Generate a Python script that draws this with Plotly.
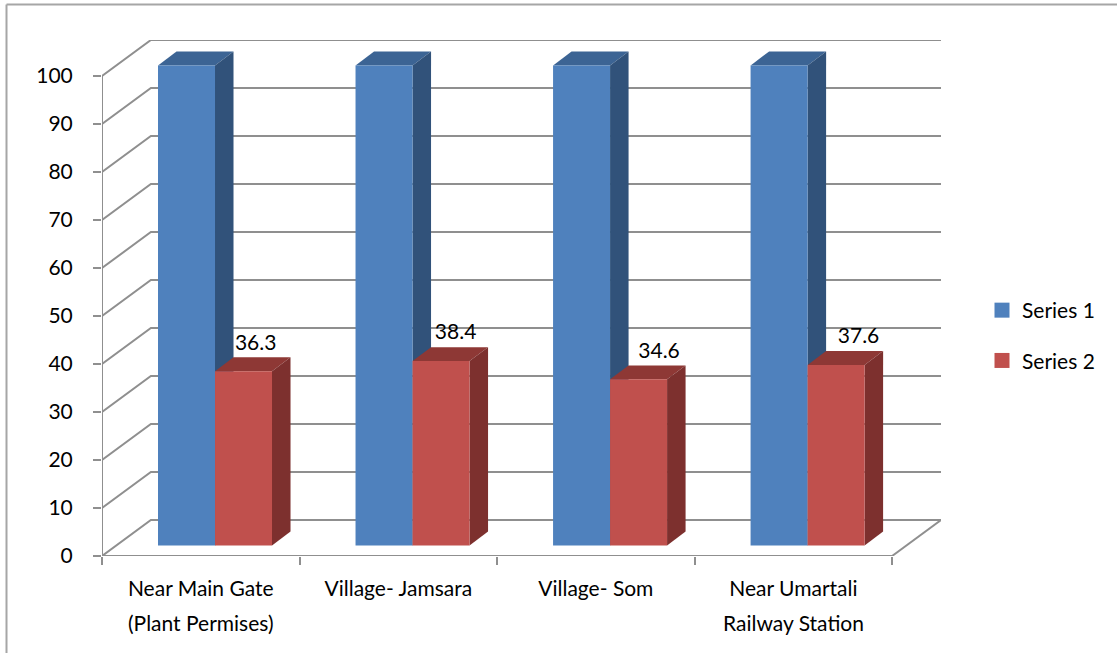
import plotly.graph_objects as go

# Chart data
categories = ["Near Main Gate", "Village- Jamsara", "Village- Som", "Near Umartali"]
categories_second_line = ["(Plant Permises)", "", "", "Railway Station"]
series_names = ["Series 1", "Series 2"]
series_1 = [100, 100, 100, 100]
series_2 = [36.3, 38.4, 34.6, 37.6]
y_ticks = [0, 10, 20, 30, 40, 50, 60, 70, 80, 90, 100]

# Oblique projection, in axis units
WALL_DX, WALL_DY = 0.2475, 7.5      # depth of the floor and walls
BAR_START = 0.2835                  # front-left corner of a bar pair inside its category
BAR_W = 0.2886
BAR_BASE = 2.2                      # bars stand slightly forward of the back wall
BAR_DX, BAR_DY = 0.0937, 2.9        # depth of a bar
LABEL_DX = [0.206, 0.218, 0.248, 0.258]  # data label centres, from the red bar's left edge
LABEL_DY = 5.6

GRID = "#8f8f8f"
FONT = "Lato, Carlito, sans-serif"
FS = 21
STYLES = [
    {"front": "#4f81bd", "side": "#31527a", "top": "#3c6494"},
    {"front": "#c0504d", "side": "#7d302e", "top": "#8e3835"},
]

W, H = 1117, 653
L, R, T, B = 102, W - 941, 40, H - 556

fig = go.Figure()


def line(xs, ys):
    fig.add_trace(go.Scatter(x=xs, y=ys, mode="lines", showlegend=False, hoverinfo="skip",
                             cliponaxis=False, line=dict(color=GRID, width=2)))


def face(xs, ys, color):
    fig.add_trace(go.Scatter(x=xs, y=ys, mode="lines", fill="toself", fillcolor=color,
                             showlegend=False, hoverinfo="skip", cliponaxis=False,
                             line=dict(width=0, color=color)))


# Back wall, side wall and floor lines
n = len(categories)
for v in y_ticks:
    line([0, WALL_DX, n + WALL_DX], [v, v + WALL_DY, v + WALL_DY])
line([n, n + WALL_DX], [0, WALL_DY])

# Axis lines in front of the walls
line([0, 0], [0, y_ticks[-1]])
line([0, n], [0, 0])

# Each column: top, side and front faces, back series first
for i in range(n):
    for s, values in enumerate([series_1, series_2]):
        v = values[i]
        x0 = i + BAR_START + s * BAR_W
        x1 = x0 + BAR_W
        top = BAR_BASE + v
        st = STYLES[s]
        face([x0, x1, x1 + BAR_DX, x0 + BAR_DX, x0],
             [top, top, top + BAR_DY, top + BAR_DY, top], st["top"])
        face([x1, x1 + BAR_DX, x1 + BAR_DX, x1, x1],
             [BAR_BASE, BAR_BASE + BAR_DY, top + BAR_DY, top, BAR_BASE], st["side"])
        face([x0, x1, x1, x0, x0], [BAR_BASE, BAR_BASE, top, top, BAR_BASE], st["front"])

# Value labels for the second series
fig.add_trace(go.Scatter(
    x=[i + BAR_START + BAR_W + LABEL_DX[i] for i in range(n)],
    y=[BAR_BASE + v + LABEL_DY for v in series_2],
    text=[str(v) for v in series_2],
    mode="text", textposition="middle center", cliponaxis=False, showlegend=False,
    hoverinfo="skip", textfont=dict(family=FONT, size=FS, color="black"),
))

# Legend entries
for s, name in enumerate(series_names):
    fig.add_trace(go.Scatter(x=[None], y=[None], mode="markers", name=name, legendgroup=name,
                             marker=dict(symbol="square", size=15, color=STYLES[s]["front"])))

# Frame on the left and top of the figure
plot_w, plot_h = W - L - R, H - T - B
def px(x):
    return (x - L) / plot_w
def py(y):
    return (H - B - y) / plot_h

fig.add_shape(type="line", xref="paper", yref="paper", x0=px(6.5), x1=px(6.5), y0=py(H), y1=py(4.5),
              line=dict(color="#a6a6a6", width=2))
fig.add_shape(type="line", xref="paper", yref="paper", x0=px(6.5), x1=px(W), y0=py(4.5), y1=py(4.5),
              line=dict(color="#a6a6a6", width=2))

# Second lines of the category labels sit further apart than a normal line break
for i, t in enumerate(categories_second_line):
    if t:
        fig.add_annotation(x=i + 0.5, y=0, xref="x", yref="y", text=t, showarrow=False,
                           yshift=-66, xanchor="center", yanchor="middle",
                           font=dict(family=FONT, size=FS, color="black"))

fig.update_layout(
    width=W, height=H, margin=dict(l=L, r=R, t=T, b=B, pad=0),
    paper_bgcolor="white", plot_bgcolor="white",
    font=dict(family=FONT, size=FS, color="black"),
    showlegend=True,
    legend=dict(x=px(982), y=py(290), xanchor="left", yanchor="top", xref="paper", yref="paper",
                tracegroupgap=20, traceorder="grouped", bgcolor="rgba(0,0,0,0)",
                font=dict(family=FONT, size=FS, color="black"), itemwidth=30),
    xaxis=dict(
        range=[0, n + WALL_DX], showgrid=False, zeroline=False, showline=False,
        tickmode="array", tickvals=[i + 0.5 for i in range(n)], ticktext=categories,
        ticks="", ticklabelstandoff=18, tickfont=dict(family=FONT, size=FS, color="black"),
        minor=dict(tickmode="array", tickvals=list(range(n + 1)), ticks="outside",
                   ticklen=8, tickwidth=2, tickcolor=GRID, showgrid=False),
    ),
    yaxis=dict(
        range=[0, y_ticks[-1] + WALL_DY], showgrid=False, zeroline=False, showline=False,
        tickmode="array", tickvals=y_ticks, ticks="outside", ticklen=8, tickwidth=2,
        tickcolor=GRID, ticklabelstandoff=16, tickfont=dict(family=FONT, size=FS, color="black"),
    ),
)

fig.write_html("out.html")
